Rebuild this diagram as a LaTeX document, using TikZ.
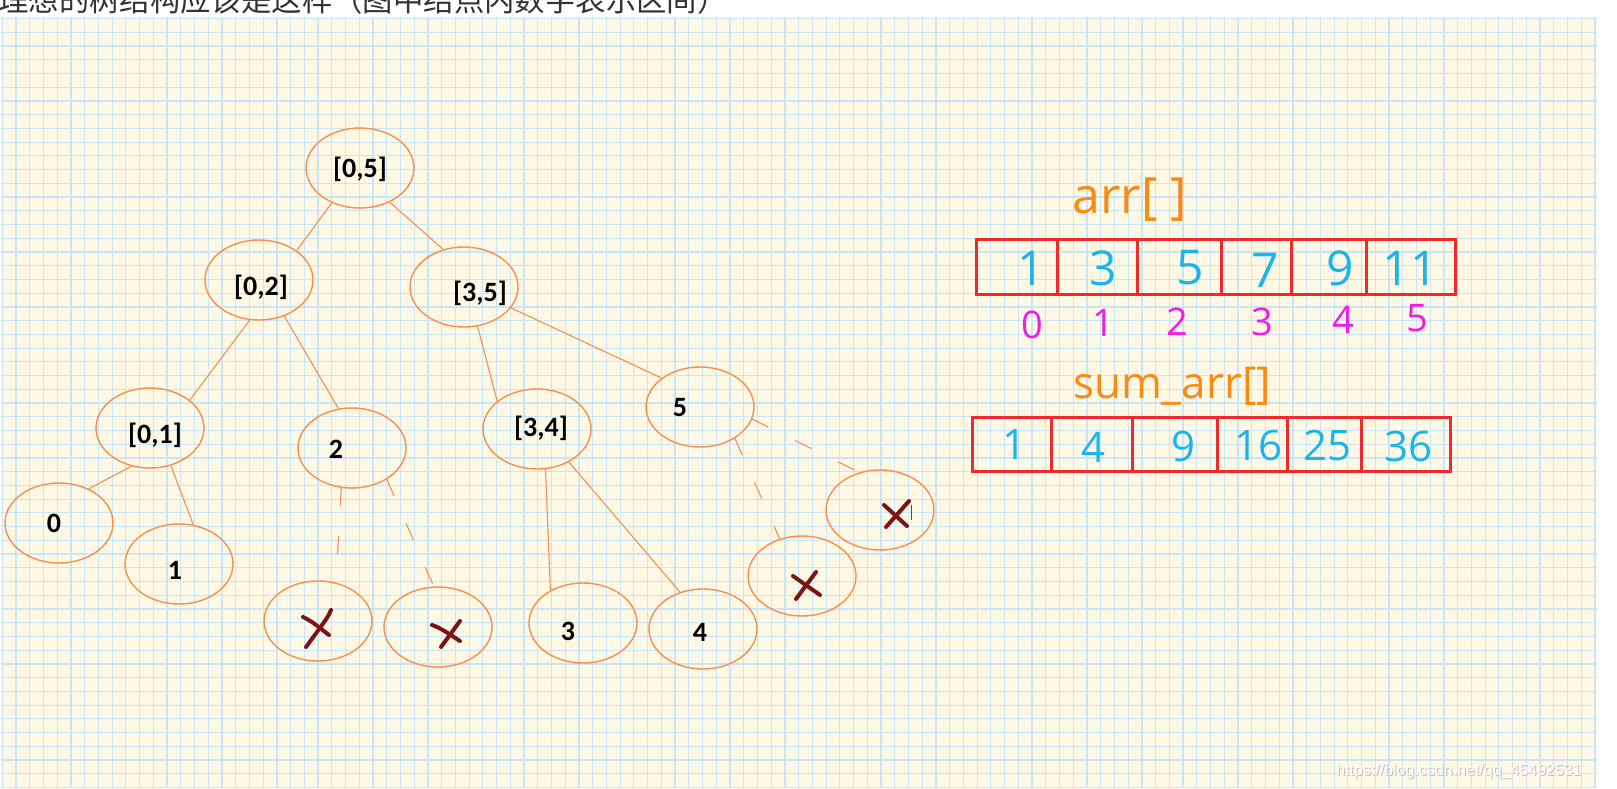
\documentclass[tikz,border=0pt]{standalone}
\usepackage{fontspec}
\setmainfont{Carlito}
\newfontfamily\cjk{Noto Sans CJK SC}
\newfontfamily\hand{Open Sans}
\newfontfamily\wm{Liberation Sans}
\usetikzlibrary{shapes.geometric}
\definecolor{paper}{HTML}{FFF8E5}
\definecolor{gridblue}{HTML}{C9E6F7}
\definecolor{treeor}{HTML}{F78F4F}
\definecolor{xred}{HTML}{7A1515}
\definecolor{boxred}{HTML}{EE2A2F}
\definecolor{valcyan}{HTML}{1BB5EC}
\definecolor{idxmag}{HTML}{EE1EE8}
\definecolor{lblor}{HTML}{F98A12}
\definecolor{titlegrey}{HTML}{333333}
\begin{document}
\begin{tikzpicture}[x=1pt,y=-1pt,
  tnode/.style={ellipse, draw=treeor, line width=1.4pt, minimum width=108pt, minimum height=80pt, inner sep=0pt},
  tlbl/.style={font=\bfseries\fontsize{28}{28}\selectfont, inner sep=0pt, text=black},
  tedge/.style={draw=treeor, line width=1.1pt},
  tdash/.style={tedge, dash pattern=on 18pt off 30pt},
  xmark/.style={draw=xred, line width=4pt, line cap=round, line join=round},
  cellbox/.style={rectangle, draw=boxred, line width=3pt, inner sep=0pt},
  arrval/.style={font=\hand\fontsize{48}{48}\selectfont, text=valcyan, inner sep=0pt},
  sumval/.style={font=\hand\fontsize{42}{42}\selectfont, text=valcyan, inner sep=0pt},
  idx/.style={font=\hand\fontsize{38}{38}\selectfont, text=idxmag, inner sep=0pt},
  arrlbl/.style={font=\hand\fontsize{50}{50}\selectfont, text=lblor, inner sep=0pt}
]
\useasboundingbox (0,0) rectangle (1617,789);
\clip (0,0) rectangle (1617,789);
\fill[white] (0,0) rectangle (1617,789);
% title (cut off at the top)
\node[anchor=base west, font=\cjk\fontsize{30.4}{30}\selectfont, text=titlegrey, inner sep=0pt] (title) at (-2,12) {理想的树结构应该是这样（图中结点内数字表示区间）};
% grid paper
\fill[paper] (1,17) rectangle (1597,787);
\foreach \i in {0,...,116} \draw[gridblue, line width=1.2pt] ({2.3+13.73*\i},17) -- ({2.3+13.73*\i},787);
\foreach \j in {0,...,56} \draw[gridblue, line width=1.2pt] (1,{18.6+13.73*\j}) -- (1597,{18.6+13.73*\j});

% tree nodes
\node[tnode] (r05) at (360,168) {};
\node[tnode] (r02) at (259,280) {};
\node[tnode] (r35) at (464,287) {};
\node[tnode] (r01) at (150,428) {};
\node[tnode] (n2) at (352,448) {};
\node[tnode] (r34) at (537,429) {};
\node[tnode] (n5) at (700,407) {};
\node[tnode] (n0) at (59,523) {};
\node[tnode] (n1) at (179,564) {};
\node[tnode] (x1) at (318,621) {};
\node[tnode] (x2) at (438,627) {};
\node[tnode] (n3) at (583,623) {};
\node[tnode] (n4) at (703,629) {};
\node[tnode] (x3) at (802,576) {};
\node[tnode] (x4) at (880,510) {};

% labels
\node[tlbl] (t05) at (360,169) {[0,5]};
\node[tlbl] (t02) at (261,287) {[0,2]};
\node[tlbl] (t35) at (480,293) {[3,5]};
\node[tlbl] (t01) at (155,435) {[0,1]};
\node[tlbl] (t2) at (336,449) {2};
\node[tlbl] (t34) at (541,428) {[3,4]};
\node[tlbl] (t5) at (680,408) {5};
\node[tlbl] (t0) at (54,523) {0};
\node[tlbl] (t1) at (175,570) {1};
\node[tlbl] (t3) at (568,631) {3};
\node[tlbl] (t4) at (700,632) {4};

% edges
\draw[tedge] (r05.-129) -- (r02.38);
\draw[tedge] (r05.-49) -- (r35.119);
\draw[tedge] (r02.-103) -- (r01.35);
\draw[tedge] (r02.-55) -- (n2.109);
\draw[tedge] (r35.-71) -- (r34.145);
\draw[tedge] (r35.-24) -- (n5.143);
\draw[tedge] (r01.-116) -- (n0.49);
\draw[tedge] (r01.-61) -- (n1.70);
\draw[tdash] (n2.-105) -- (x1.65);
\draw[tdash] (n2.-42) -- (x2.96);
\draw[tedge] (r34.-78) -- (n3.135);
\draw[tedge] (r34.-46) -- (n4.122);
\draw[tdash] (n5.-42) -- (x3.121);
\draw[tdash] (n5.-13) -- (x4.119);

% crosses
\draw[xmark] (331,610) .. controls (328,617) .. (306,647);
\draw[xmark] (303,617) .. controls (311,621) .. (329,635);
\draw[xmark] (460,621) -- (441,647);
\draw[xmark] (432,625) .. controls (440,628) .. (460,641);
\draw[xmark] (816,572) -- (796,599);
\draw[xmark] (793,576) -- (820,595);
\draw[xmark] (909,501) -- (886,527);
\draw[xmark] (884,505) -- (907,526);
\draw[black!70, line width=1pt] (911,505) -- (911,520);

% arr[]
\node[arrlbl] (arrl) at (1130,200) {arr[ ]};
\node[cellbox, minimum width=81pt, minimum height=55pt] (a0) at (1016.5,266.5) {};
\node[cellbox, minimum width=80pt, minimum height=55pt] (a1) at (1097,266.5) {};
\node[cellbox, minimum width=84pt, minimum height=55pt] (a2) at (1179,266.5) {};
\node[cellbox, minimum width=70pt, minimum height=55pt] (a3) at (1256,266.5) {};
\node[cellbox, minimum width=75pt, minimum height=55pt] (a4) at (1328.5,266.5) {};
\node[cellbox, minimum width=89pt, minimum height=55pt] (a5) at (1410.5,266.5) {};
\node[arrval] (v0) at (1031,268) {1};
\node[arrval] (v1) at (1103,268) {3};
\node[arrval] (v2) at (1190,268) {5};
\node[arrval] (v3) at (1265,270) {7};
\node[arrval] (v4) at (1340,268) {9};
\node[arrval] (v5) at (1410,268) {11};
\node[idx] (i0) at (1032,325) {0};
\node[idx] (i1) at (1103,323) {1};
\node[idx] (i2) at (1177,322) {2};
\node[idx] (i3) at (1262,322) {3};
\node[idx] (i4) at (1343,320) {4};
\node[idx] (i5) at (1417,318) {5};

% sum_arr[]
\node[arrlbl, font=\hand\fontsize{44}{44}\selectfont] (suml) at (1172,386) {sum\_arr[]};
\node[cellbox, minimum width=79pt, minimum height=54pt] (s0) at (1011.5,444) {};
\node[cellbox, minimum width=81pt, minimum height=54pt] (s1) at (1091.5,444) {};
\node[cellbox, minimum width=85pt, minimum height=54pt] (s2) at (1174.5,444) {};
\node[cellbox, minimum width=70pt, minimum height=54pt] (s3) at (1252,444) {};
\node[cellbox, minimum width=74pt, minimum height=54pt] (s4) at (1324,444) {};
\node[cellbox, minimum width=89pt, minimum height=54pt] (s5) at (1405.5,444) {};
\node[sumval] (w0) at (1014,445) {1};
\node[sumval] (w1) at (1093,447) {4};
\node[sumval] (w2) at (1183,446) {9};
\node[sumval] (w3) at (1258,445) {16};
\node[sumval] (w4) at (1327,445) {25};
\node[sumval] (w5) at (1408,446) {36};

% watermark
\node[font=\wm\fontsize{16}{16}\selectfont, text=black!25, inner sep=0pt] (wms) at (1460,772) {https://blog.csdn.net/qq\_45492531};
\node[font=\wm\fontsize{16}{16}\selectfont, text=white, inner sep=0pt] (wm) at (1459,771) {https://blog.csdn.net/qq\_45492531};
\end{tikzpicture}
\end{document}
